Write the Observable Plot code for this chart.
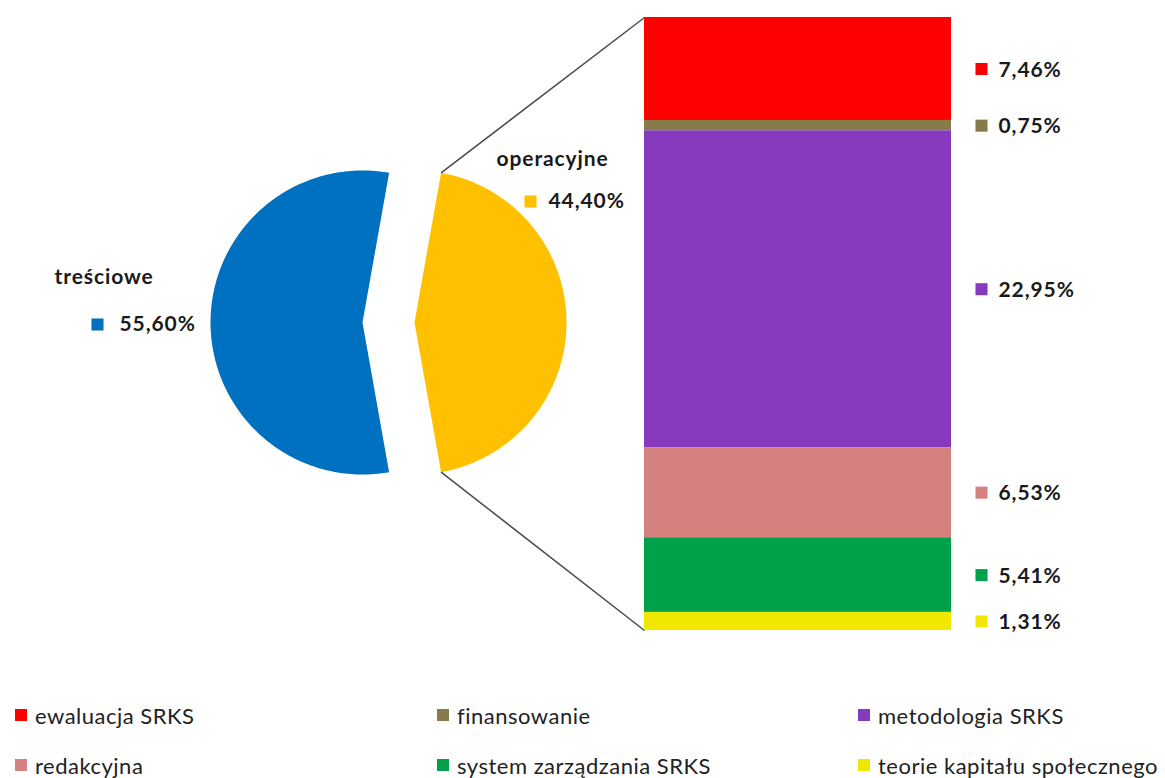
<!DOCTYPE html>
<html><head><meta charset="utf-8">
<script src="https://cdn.jsdelivr.net/npm/d3@7"></script>
<script src="https://cdn.jsdelivr.net/npm/@observablehq/plot@0.6"></script>
<style>
body{margin:0;background:#fff;font-family:Lato,"Open Sans",sans-serif}
#chart svg{display:block}
#legend{display:grid;grid-template-columns:422px 421px 322px;grid-auto-rows:50px;padding-left:15px;margin-top:0}
#legend .item{display:flex;align-items:center;font-size:22px;letter-spacing:0.5px;color:#222;white-space:nowrap}
#legend .sw{width:12px;height:12px;margin-right:8px;flex:none}
</style></head><body>
<div id="chart"></div>
<div id="legend"></div>
<script>
// ---- data ----
const pieCategories = ["treściowe", "operacyjne"];
const pieValues = [55.60, 44.40];
const pieColors = ["#0070C0", "#FFC000"];

const barCategories = ["ewaluacja SRKS", "finansowanie", "metodologia SRKS", "redakcyjna", "system zarządzania SRKS", "teorie kapitału społecznego"];
const barValues = [7.46, 0.75, 22.95, 6.53, 5.41, 1.31];
const barColors = ["#FF0000", "#877B4A", "#8739BF", "#D4817F", "#00A14B", "#F0E800"];

// ---- layout (pixels) ----
const W = 1165, H = 690;
const barTopPx = 17, barBottomPx = 630, barLeftPx = 644, barRightPx = 951;
const pieCyPx = 322, pieMidCxPx = 388, explodePx = 26, pieRadiusPx = 152;

const total = d3.sum(barValues);
const K = (barBottomPx - barTopPx) / total; // px per unit
const ux = px => px / K;
const uy = py => (barBottomPx - py) / K;

const fmt = v => v.toFixed(2).replace(".", ",") + "%";

// ---- pie geometry (derived from values) ----
const pieTotal = d3.sum(pieValues);
const halfOp = Math.PI * pieValues[1] / pieTotal; // operacyjne centered on the right
const R = ux(pieRadiusPx);
const cy = uy(pieCyPx);
const slices = [
  {name: pieCategories[0], color: pieColors[0], cx: ux(pieMidCxPx - explodePx), a0: halfOp, a1: 2 * Math.PI - halfOp},
  {name: pieCategories[1], color: pieColors[1], cx: ux(pieMidCxPx + explodePx), a0: -halfOp, a1: halfOp}
];
const piePts = [];
for (const s of slices) {
  piePts.push({slice: s.name, color: s.color, x: s.cx, y: cy});
  const n = 180;
  for (let i = 0; i <= n; i++) {
    const a = s.a0 + (s.a1 - s.a0) * i / n;
    piePts.push({slice: s.name, color: s.color, x: s.cx + R * Math.cos(a), y: cy + R * Math.sin(a)});
  }
}
const op = slices[1];

// ---- bar segments (top to bottom order as listed) ----
let acc = total;
const segs = barCategories.map((c, i) => {
  const y2 = acc, y1 = acc - barValues[i];
  acc = y1;
  return {cat: c, value: barValues[i], color: barColors[i], y1, y2, ym: (y1 + y2) / 2};
});
const bx0 = ux(barLeftPx), bx1 = ux(barRightPx);

const links = [
  {x1: op.cx + R * Math.cos(halfOp), y1: cy + R * Math.sin(halfOp), x2: bx0, y2: total},
  {x1: op.cx + R * Math.cos(-halfOp), y1: cy + R * Math.sin(-halfOp), x2: bx0, y2: 0}
];

const pieLabels = [
  {name: pieCategories[0], value: pieValues[0], color: pieColors[0], nx: ux(54), ny: uy(277), sx: ux(97), tx: ux(119), vy: uy(324)},
  {name: pieCategories[1], value: pieValues[1], color: pieColors[1], nx: ux(496), ny: uy(159), sx: ux(530), tx: ux(548), vy: uy(201)}
];

const chart = Plot.plot({
  width: W, height: H,
  margin: 0,
  x: {domain: [0, ux(W)], range: [0, W], axis: null},
  y: {domain: [0, total], range: [barBottomPx, barTopPx], axis: null},
  color: {type: "identity"},
  style: {fontFamily: "Lato, 'Open Sans', sans-serif", background: "white", overflow: "visible", letterSpacing: "0.9px"},
  marks: [
    Plot.line(piePts, {x: "x", y: "y", z: "slice", fill: "color", stroke: null}),
    Plot.link(links, {x1: "x1", y1: "y1", x2: "x2", y2: "y2", stroke: "#4a4a4a", strokeWidth: 1.5}),
    Plot.rect(segs, {x1: () => bx0, x2: () => bx1, y1: "y1", y2: "y2", fill: "color"}),
    Plot.dot(segs, {x: () => ux(981), y: "ym", symbol: "square", r: 6.8, fill: "color", stroke: null}),
    Plot.text(segs, {x: () => ux(998), y: "ym", dy: 1, text: d => fmt(d.value), textAnchor: "start", fontWeight: "bold", fontSize: 21, fill: "#1a1a1a"}),
    Plot.text(pieLabels, {x: "nx", y: "ny", text: "name", textAnchor: "start", fontWeight: "bold", fontSize: 21, fill: "#1a1a1a"}),
    Plot.dot(pieLabels, {x: "sx", y: "vy", symbol: "square", r: 6.8, fill: "color", stroke: null}),
    Plot.text(pieLabels, {x: "tx", y: "vy", text: d => fmt(d.value), textAnchor: "start", fontWeight: "bold", fontSize: 21, fill: "#1a1a1a"})
  ]
});
document.getElementById("chart").append(chart);

const legend = document.getElementById("legend");
barCategories.forEach((c, i) => {
  const it = document.createElement("div");
  it.className = "item";
  const sw = document.createElement("span");
  sw.className = "sw";
  sw.style.background = barColors[i];
  it.append(sw, document.createTextNode(c));
  legend.append(it);
});
</script>
</body></html>
